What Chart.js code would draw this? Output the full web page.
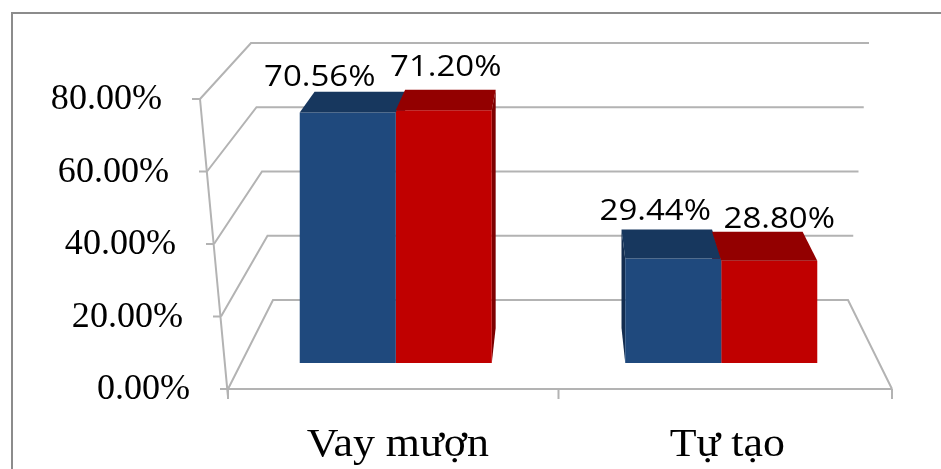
<!DOCTYPE html>
<html>
<head>
<meta charset="utf-8">
<script src="https://cdn.jsdelivr.net/npm/chart.js@4.4.1/dist/chart.umd.min.js"></script>
<style>
  html, body { margin: 0; padding: 0; background: #fff; }
  canvas { display: block; }
</style>
</head>
<body>
<canvas id="chart" width="941" height="469"></canvas>
<script>
// ---- data ----
const categories = ['Vay mượn', 'Tự tạo'];
const seriesBlue = [70.56, 29.44];
const seriesRed = [71.20, 28.80];
const yTicks = [0, 20, 40, 60, 80];

// ---- look ----
const COLORS = {
    blue: { front: '#1F497D', top: '#17375E', side: '#132d50' },
    red: { front: '#C00000', top: '#930000', side: '#7e0000' },
    grid: '#b3b3b3',
    border: '#8c8c8c',
    text: '#000000'
};

// back edges of the 3D boxes are pulled toward this vanishing point
const VP = { x: 560, y: -250, k: 0.943 };

// corners of the 3D frame, [x at lowest tick, x at highest tick]
const FRAME = { frontL: [228, 200], backL: [273, 251], backR: [848, 869], frontR: 892 };

// value label nudges [series][category], relative to the bar's top back edge
const LABEL_DX = [[-28, -18], [2, 10]];
const LABEL_DY = [[-6, -10], [-14, -4]];

function stretchText(ctx, text, x, y, sx) {
    ctx.save();
    ctx.translate(x, y);
    ctx.scale(sx, 1);
    ctx.fillText(text, 0, 0);
    ctx.restore();
}

function project(x, y) {
    return [VP.x + (x - VP.x) * VP.k, VP.y + (y - VP.y) * VP.k];
}

function barBoxes(chart, cb) {
    chart.data.datasets.forEach((ds, d) => {
        chart.getDatasetMeta(d).data.forEach((el, i) => {
            const p = el.getProps(['x', 'y', 'base', 'width'], true);
            cb(ds, d, i, p);
        });
    });
}

const frame3d = {
    id: 'frame3d',
    beforeDatasetsDraw(chart) {
        const ctx = chart.ctx;
        const y = chart.scales.y;
        const yb = chart.scales.yBack;
        const x = chart.scales.x;
        const lo = yTicks[0];
        const hi = yTicks[yTicks.length - 1];
        const lerp = (pair, v) => pair[0] + (pair[1] - pair[0]) * (v - lo) / (hi - lo);

        ctx.save();
        // chart border (only top and left edges fall inside the canvas)
        ctx.strokeStyle = COLORS.border;
        ctx.lineWidth = 2;
        ctx.beginPath();
        ctx.moveTo(12, 469);
        ctx.lineTo(12, 13);
        ctx.lineTo(941, 13);
        ctx.stroke();

        // side wall + back wall gridlines, floor outline
        ctx.strokeStyle = COLORS.grid;
        ctx.lineWidth = 2;
        yTicks.forEach(v => {
            const fy = y.getPixelForValue(v);
            const by = yb.getPixelForValue(v);
            const fx = lerp(FRAME.frontL, v);
            ctx.beginPath();
            if (v === lo) {
                ctx.moveTo(FRAME.frontR, fy);
                ctx.lineTo(fx, fy);
            } else {
                ctx.moveTo(fx, fy);
            }
            ctx.lineTo(lerp(FRAME.backL, v), by);
            ctx.lineTo(lerp(FRAME.backR, v), by);
            if (v === lo) ctx.lineTo(FRAME.frontR, fy);
            ctx.stroke();

            ctx.beginPath();
            ctx.moveTo(fx - 8, fy);
            ctx.lineTo(fx, fy);
            ctx.stroke();
        });

        // front value axis
        ctx.beginPath();
        ctx.moveTo(FRAME.frontL[1], y.getPixelForValue(hi));
        ctx.lineTo(FRAME.frontL[0], y.getPixelForValue(lo) + 8);
        ctx.stroke();

        // category tick marks
        const y0 = y.getPixelForValue(lo);
        const mid = (x.getPixelForValue(0) + x.getPixelForValue(1)) / 2;
        [FRAME.frontL[0], mid, FRAME.frontR].forEach(tx => {
            ctx.beginPath();
            ctx.moveTo(tx, y0);
            ctx.lineTo(tx, y0 + 10);
            ctx.stroke();
        });

        // side faces, drawn before the front faces so neighbours cover them
        barBoxes(chart, (ds, d, i, p) => {
            const l = p.x - p.width / 2;
            const r = p.x + p.width / 2;
            const edge = r < VP.x ? r : (l > VP.x ? l : null);
            if (edge === null) return;
            const a = project(edge, p.y);
            const b = project(edge, p.base);
            ctx.fillStyle = ds.sideColor;
            ctx.beginPath();
            ctx.moveTo(edge, p.y);
            ctx.lineTo(a[0], a[1]);
            ctx.lineTo(b[0], b[1]);
            ctx.lineTo(edge, p.base);
            ctx.closePath();
            ctx.fill();
        });
        ctx.restore();
    },
    afterDatasetsDraw(chart) {
        const ctx = chart.ctx;
        const y = chart.scales.y;
        const x = chart.scales.x;
        const lo = yTicks[0];
        const hi = yTicks[yTicks.length - 1];
        const lerp = (pair, v) => pair[0] + (pair[1] - pair[0]) * (v - lo) / (hi - lo);

        ctx.save();
        // top faces
        barBoxes(chart, (ds, d, i, p) => {
            const l = p.x - p.width / 2;
            const r = p.x + p.width / 2;
            const bl = project(l, p.y);
            const br = project(r, p.y);
            ctx.fillStyle = ds.topColor;
            ctx.beginPath();
            ctx.moveTo(l, p.y);
            ctx.lineTo(r, p.y);
            ctx.lineTo(br[0], br[1]);
            ctx.lineTo(bl[0], bl[1]);
            ctx.closePath();
            ctx.fill();
        });

        ctx.fillStyle = COLORS.text;

        // value labels
        ctx.font = '30px "Open Sans"';
        ctx.textAlign = 'center';
        ctx.textBaseline = 'alphabetic';
        barBoxes(chart, (ds, d, i, p) => {
            const back = project(p.x, p.y);
            const val = ds.data[i].toFixed(2) + '%';
            stretchText(ctx, val, p.x + LABEL_DX[d][i], back[1] + LABEL_DY[d][i], 1.1);
        });

        // value axis labels
        ctx.font = '35px "Liberation Serif"';
        ctx.textAlign = 'right';
        ctx.textBaseline = 'middle';
        yTicks.forEach(v => {
            stretchText(ctx, v.toFixed(2) + '%', lerp(FRAME.frontL, v) - 38, y.getPixelForValue(v) + 1, 1.03);
        });

        // category labels
        ctx.font = '41px "Liberation Serif"';
        ctx.textAlign = 'center';
        ctx.textBaseline = 'alphabetic';
        categories.forEach((c, i) => {
            stretchText(ctx, c, x.getPixelForValue(i) + 2 + i * 4, 456, 1.07);
        });
        ctx.restore();
    }
};

new Chart(document.getElementById('chart'), {
    type: 'bar',
    data: {
        labels: categories,
        datasets: [
            {
                label: 'Series 1',
                data: seriesBlue,
                backgroundColor: COLORS.blue.front,
                topColor: COLORS.blue.top,
                sideColor: COLORS.blue.side,
                yAxisID: 'yBar',
                categoryPercentage: 0.59,
                barPercentage: 1.0,
                borderWidth: 0
            },
            {
                label: 'Series 2',
                data: seriesRed,
                backgroundColor: COLORS.red.front,
                topColor: COLORS.red.top,
                sideColor: COLORS.red.side,
                yAxisID: 'yBar',
                categoryPercentage: 0.59,
                barPercentage: 1.0,
                borderWidth: 0
            }
        ]
    },
    options: {
        responsive: false,
        animation: false,
        layout: { padding: { left: 233, right: 57, top: 99, bottom: 80 } },
        plugins: {
            legend: { display: false },
            tooltip: { enabled: false }
        },
        scales: {
            x: { display: false, offset: true },
            // front edge of the value axis (labels and side-wall lines)
            y: { display: false, min: 0, max: 80 },
            // the bars stand further back, so their scale is shorter
            yBar: { display: false, min: -7.32, max: 74.37 },
            // back wall
            yBack: { display: false, min: -27.7, max: 62.57 }
        }
    },
    plugins: [frame3d]
});
</script>
</body>
</html>
